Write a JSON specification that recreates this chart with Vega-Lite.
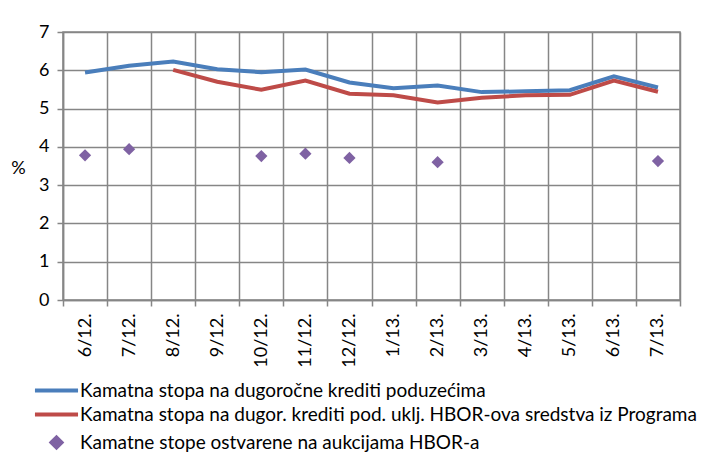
{
  "$schema": "https://vega.github.io/schema/vega-lite/v6.json",
  "autosize": "none",
  "width": 617,
  "height": 268,
  "padding": {"left": 63, "top": 32, "right": 28, "bottom": 157},
  "background": "white",
  "config": {
    "font": "Lato",
    "view": {"stroke": "#868686", "strokeWidth": 1.5},
    "axis": {"gridColor": "#868686", "gridWidth": 1.5, "domainColor": "#868686", "domainWidth": 1.5, "tickColor": "#868686", "tickWidth": 1.5, "tickSize": 6, "labelColor": "black", "labelFont": "Lato"}
  },
  "data": {"values": [
    {"m": "6/12.", "s": "A", "v": 5.94},
    {"m": "7/12.", "s": "A", "v": 6.12},
    {"m": "8/12.", "s": "A", "v": 6.23},
    {"m": "9/12.", "s": "A", "v": 6.03},
    {"m": "10/12.", "s": "A", "v": 5.95},
    {"m": "11/12.", "s": "A", "v": 6.02},
    {"m": "12/12.", "s": "A", "v": 5.68},
    {"m": "1/13.", "s": "A", "v": 5.53},
    {"m": "2/13.", "s": "A", "v": 5.6},
    {"m": "3/13.", "s": "A", "v": 5.43},
    {"m": "4/13.", "s": "A", "v": 5.45},
    {"m": "5/13.", "s": "A", "v": 5.48},
    {"m": "6/13.", "s": "A", "v": 5.84},
    {"m": "7/13.", "s": "A", "v": 5.55},
    {"m": "8/12.", "s": "B", "v": 6.01},
    {"m": "9/12.", "s": "B", "v": 5.7},
    {"m": "10/12.", "s": "B", "v": 5.49},
    {"m": "11/12.", "s": "B", "v": 5.73},
    {"m": "12/12.", "s": "B", "v": 5.39},
    {"m": "1/13.", "s": "B", "v": 5.35},
    {"m": "2/13.", "s": "B", "v": 5.16},
    {"m": "3/13.", "s": "B", "v": 5.28},
    {"m": "4/13.", "s": "B", "v": 5.35},
    {"m": "5/13.", "s": "B", "v": 5.36},
    {"m": "6/13.", "s": "B", "v": 5.73},
    {"m": "7/13.", "s": "B", "v": 5.44},
    {"m": "6/12.", "s": "C", "v": 3.78},
    {"m": "7/12.", "s": "C", "v": 3.94},
    {"m": "10/12.", "s": "C", "v": 3.76},
    {"m": "11/12.", "s": "C", "v": 3.82},
    {"m": "12/12.", "s": "C", "v": 3.71},
    {"m": "2/13.", "s": "C", "v": 3.6},
    {"m": "7/13.", "s": "C", "v": 3.63}
  ]},
  "encoding": {
    "x": {
      "field": "m", "type": "ordinal", "sort": null,
      "scale": {"type": "band", "paddingInner": 0, "paddingOuter": 0, "domain": ["6/12.","7/12.","8/12.","9/12.","10/12.","11/12.","12/12.","1/13.","2/13.","3/13.","4/13.","5/13.","6/13.","7/13."]},
      "axis": {"title": null, "tickBand": "extent", "labelAngle": 270, "labelFontSize": 18, "labelPadding": 7, "grid": true}
    },
    "y": {
      "field": "v", "type": "quantitative",
      "scale": {"domain": [0, 7], "nice": false, "zero": true},
      "axis": {"values": [0,1,2,3,4,5,6,7], "labelFontSize": 18, "labelPadding": 8, "grid": true,
        "title": "%", "titleAngle": 0, "titleFontSize": 18, "titleFontWeight": "normal", "titleX": -45, "titleY": 136, "titleAlign": "center", "titleBaseline": "middle"}
    },
    "color": {
      "field": "s", "type": "nominal",
      "scale": {"domain": ["A","B","C"], "range": ["#4A7EBB","#BE4B48","#7F62A3"]},
      "legend": {
        "orient": "none", "legendX": -28, "legendY": 349, "direction": "vertical", "title": null, "padding": 0,
        "labelFontSize": 19, "labelFont": "Lato", "labelColor": "black", "labelOffset": 0, "rowPadding": 4, "labelLimit": 0,
        "symbolType": "stroke", "symbolSize": 64, "symbolStrokeWidth": 4,
        "labelExpr": "datum.value === 'A' ? 'Kamatna stopa na dugoročne krediti poduzećima' : datum.value === 'B' ? 'Kamatna stopa na dugor. krediti pod. uklj. HBOR-ova sredstva iz Programa' : 'Kamatne stope ostvarene na aukcijama  HBOR-a'",
        "encode": {
          "symbols": {"update": {
            "x": {"value": 21.5},
            "shape": {"signal": "datum.value === 'C' ? 'diamond' : 'M-4,0H4'"},
            "size": {"signal": "datum.value === 'C' ? 100 : 116"},
            "fill": {"signal": "datum.value === 'C' ? '#7F62A3' : 'transparent'"},
            "stroke": {"signal": "datum.value === 'A' ? '#4A7EBB' : datum.value === 'B' ? '#BE4B48' : 'transparent'"},
            "strokeWidth": {"value": 4},
            "opacity": {"value": 1}
          }},
          "labels": {"update": {"x": {"value": 45}}}
        }
      }
    }
  },
  "layer": [
    {"transform": [{"filter": "datum.s !== 'C'"}], "mark": {"type": "line", "strokeWidth": 4}},
    {"transform": [{"filter": "datum.s === 'C'"}], "mark": {"type": "point", "shape": "diamond", "filled": true, "size": 150, "opacity": 1}}
  ]
}
